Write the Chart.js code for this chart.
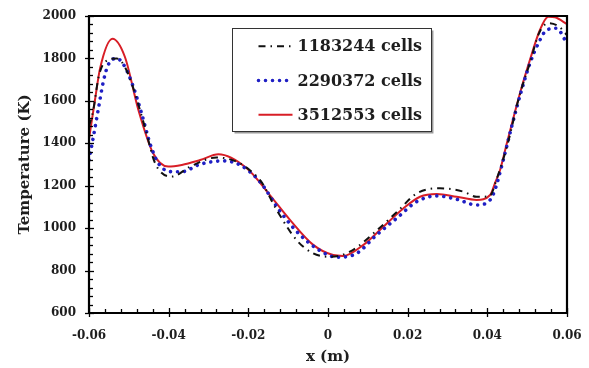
<!DOCTYPE html>
<html>
<head>
<meta charset="utf-8">
<script src="https://cdn.jsdelivr.net/npm/chart.js@4.4.1/dist/chart.umd.min.js"></script>
<style>
html,body{margin:0;padding:0;background:#fff;}
#wrap{position:relative;width:589px;height:368px;}
</style>
</head>
<body>
<div id="wrap"><canvas id="c" width="589" height="368"></canvas></div>
<script>
// ---- Data ----
const seriesNames = ['1183244 cells', '2290372 cells', '3512553 cells'];

const xCoarse = [-0.06, -0.059, -0.0575, -0.0555, -0.053, -0.051, -0.0493, -0.046, -0.0434, -0.0392, -0.0346, -0.028, -0.0171, -0.0129, -0.0079, -0.0037, 0.0005, 0.0055, 0.012, 0.0175, 0.0223, 0.0281, 0.034, 0.0373, 0.0405, 0.0425, 0.045, 0.048, 0.0507, 0.053, 0.0553, 0.058, 0.06];
const tCoarse = [1480, 1550, 1720, 1790, 1800, 1760, 1683, 1478, 1306, 1243, 1290, 1333, 1227, 1086, 944, 881, 865, 889, 985, 1080, 1164, 1188, 1172, 1148, 1150, 1240, 1390, 1620, 1780, 1920, 1966, 1950, 1910];

const xMedium = [-0.06, -0.0589, -0.0577, -0.0564, -0.0552, -0.053, -0.051, -0.0489, -0.0468, -0.0447, -0.0426, -0.0392, -0.0367, -0.0321, -0.0263, -0.0221, -0.0171, -0.012, -0.007, -0.002, 0.0022, 0.0072, 0.0122, 0.0172, 0.0223, 0.0273, 0.0323, 0.0373, 0.0407, 0.0419, 0.044, 0.0461, 0.0486, 0.0507, 0.0528, 0.0549, 0.0574, 0.0595, 0.06];
const tMedium = [1321, 1431, 1557, 1691, 1769, 1800, 1761, 1667, 1541, 1400, 1306, 1266, 1266, 1301, 1317, 1298, 1219, 1078, 968, 894, 863, 881, 968, 1046, 1125, 1152, 1136, 1109, 1133, 1180, 1321, 1478, 1651, 1777, 1871, 1934, 1942, 1887, 1870];

const xFine = [-0.06, -0.0585, -0.0572, -0.0541, -0.051, -0.0476, -0.0439, -0.0401, -0.0367, -0.0321, -0.0275, -0.0204, -0.0146, -0.0095, -0.0037, 0.0013, 0.0038, 0.0089, 0.0139, 0.0189, 0.0231, 0.0273, 0.0323, 0.0373, 0.0407, 0.0419, 0.0432, 0.0449, 0.0482, 0.0507, 0.0532, 0.0553, 0.057, 0.06];
const tFine = [1420, 1604, 1755, 1893, 1808, 1557, 1353, 1290, 1298, 1321, 1348, 1282, 1156, 1038, 921, 873, 869, 921, 1007, 1093, 1148, 1161, 1148, 1133, 1156, 1211, 1274, 1400, 1636, 1793, 1934, 1997, 1994, 1962];

const xTickLabels = ['-0.06', '-0.04', '-0.02', '0', '0.02', '0.04', '0.06'];
const yTickLabels = ['600', '800', '1000', '1200', '1400', '1600', '1800', '2000'];

// ---- Chart ----
const toPts = (xs, ys) => xs.map((x, i) => ({x: x, y: ys[i]}));
const FONT = '"DejaVu Serif", "Liberation Serif", serif';
const TXT = '#1e1e1e';

const framePlugin = {
  id: 'frame',
  afterDraw(chart) {
    const ctx = chart.ctx;
    const xs = chart.scales.x, ys = chart.scales.y;
    const L = xs.left, R = xs.right, T = ys.top, B = ys.bottom;
    ctx.save();
    ctx.strokeStyle = '#000';
    ctx.lineWidth = 1.3;
    for (let k = 0; k <= 30; k++) {
      const v = -0.06 + k * 0.004;
      const px = Math.round(xs.getPixelForValue(v)) + 0.5;
      ctx.beginPath();
      if (k % 5 === 0) { ctx.moveTo(px, B + 4); ctx.lineTo(px, B - 5); }
      else { ctx.moveTo(px, B); ctx.lineTo(px, B - 4); }
      ctx.stroke();
    }
    for (let k = 0; k <= 35; k++) {
      const v = 600 + k * 40;
      const py = Math.round(ys.getPixelForValue(v)) + 0.5;
      ctx.beginPath();
      if (k % 5 === 0) { ctx.moveTo(L - 4, py); ctx.lineTo(L + 5, py); }
      else { ctx.moveTo(L, py); ctx.lineTo(L + 4, py); }
      ctx.stroke();
    }
    ctx.lineWidth = 2.2;
    ctx.beginPath();
    ctx.moveTo(L, T); ctx.lineTo(R, T); ctx.lineTo(R, B); ctx.lineTo(L, B); ctx.closePath();
    ctx.stroke();
    ctx.restore();
  }
};

const legendPlugin = {
  id: 'boxLegend',
  afterDraw(chart) {
    const ctx = chart.ctx;
    const xs = chart.scales.x, ys = chart.scales.y;
    const bx = Math.round(xs.getPixelForValue(-0.0241)) + 0.5;
    const bxr = Math.round(xs.getPixelForValue(0.0259)) + 0.5;
    const by = Math.round(ys.getPixelForValue(1945)) + 0.5;
    const byb = Math.round(ys.getPixelForValue(1459)) + 0.5;
    ctx.save();
    ctx.strokeStyle = '#9a9a9a';
    ctx.lineWidth = 1.5;
    ctx.beginPath();
    ctx.moveTo(bxr + 1.2, by + 2); ctx.lineTo(bxr + 1.2, byb + 1.2); ctx.lineTo(bx + 2, byb + 1.2);
    ctx.stroke();
    ctx.strokeStyle = '#333';
    ctx.lineWidth = 1;
    ctx.strokeRect(bx, by, bxr - bx, byb - by);
    const rowH = (byb - by) / 3;
    chart.data.datasets.forEach((ds, i) => {
      const cy = by + rowH * (i + 0.5) + 0.5;
      const x0 = bx + 26, x1 = bx + 60;
      ctx.save();
      ctx.strokeStyle = ds.borderColor;
      ctx.lineWidth = ds.borderWidth;
      ctx.lineCap = ds.borderCapStyle || 'butt';
      ctx.setLineDash(ds.borderDash || []);
      ctx.beginPath();
      ctx.moveTo(x0, cy); ctx.lineTo(x1, cy);
      ctx.stroke();
      ctx.restore();
      ctx.fillStyle = TXT;
      ctx.font = 'bold 16px ' + FONT;
      ctx.textBaseline = 'middle';
      ctx.textAlign = 'left';
      ctx.fillText(ds.label, bx + 65, cy + 1);
    });
    ctx.restore();
  }
};

new Chart(document.getElementById('c'), {
  type: 'line',
  data: {
    datasets: [
      {
        label: seriesNames[0],
        data: toPts(xCoarse, tCoarse),
        borderColor: '#111111',
        borderWidth: 2,
        borderDash: [7, 5, 1.5, 5],
        cubicInterpolationMode: 'monotone',
        pointRadius: 0,
        fill: false
      },
      {
        label: seriesNames[1],
        data: toPts(xMedium, tMedium),
        borderColor: '#1f1fc4',
        borderWidth: 3.6,
        borderDash: [0.01, 7],
        borderCapStyle: 'round',
        cubicInterpolationMode: 'monotone',
        pointRadius: 0,
        fill: false
      },
      {
        label: seriesNames[2],
        data: toPts(xFine, tFine),
        borderColor: '#d81e26',
        borderWidth: 2,
        cubicInterpolationMode: 'monotone',
        pointRadius: 0,
        fill: false
      }
    ]
  },
  options: {
    responsive: false,
    animation: false,
    devicePixelRatio: 1,
    layout: { padding: { top: 16, right: 22, left: 0, bottom: 0 } },
    plugins: { legend: { display: false }, tooltip: { enabled: false } },
    scales: {
      x: {
        type: 'linear',
        min: -0.06, max: 0.06,
        grid: { display: false, drawTicks: false },
        border: { display: false },
        afterBuildTicks(scale) {
          scale.ticks = xTickLabels.map(s => ({ value: parseFloat(s) }));
        },
        ticks: {
          padding: 16,
          color: TXT,
          font: { family: FONT, size: 12, weight: 'bold' },
          maxRotation: 0,
          autoSkip: false,
          callback: (v, i) => xTickLabels[i]
        },
        title: {
          display: true, text: 'x (m)', color: TXT,
          font: { family: FONT, size: 15, weight: 'bold' },
          padding: { top: 0, bottom: 2 }
        },
        afterFit(scale) { scale.height = 55; scale.paddingLeft = 0; scale.paddingRight = 0; }
      },
      y: {
        type: 'linear',
        min: 600, max: 2000,
        grid: { display: false, drawTicks: false },
        border: { display: false },
        afterBuildTicks(scale) {
          scale.ticks = yTickLabels.map(s => ({ value: parseFloat(s) }));
        },
        ticks: {
          padding: 13,
          color: TXT,
          font: { family: FONT, size: 12, weight: 'bold' },
          autoSkip: false,
          callback: (v, i) => yTickLabels[i]
        },
        title: {
          display: true, text: 'Temperature (K)', color: TXT,
          font: { family: FONT, size: 15, weight: 'bold' },
          padding: { top: 16, bottom: 0 }
        },
        afterFit(scale) { scale.width = 89; scale.paddingTop = 0; scale.paddingBottom = 0; }
      }
    }
  },
  plugins: [framePlugin, legendPlugin]
});
</script>
</body>
</html>
